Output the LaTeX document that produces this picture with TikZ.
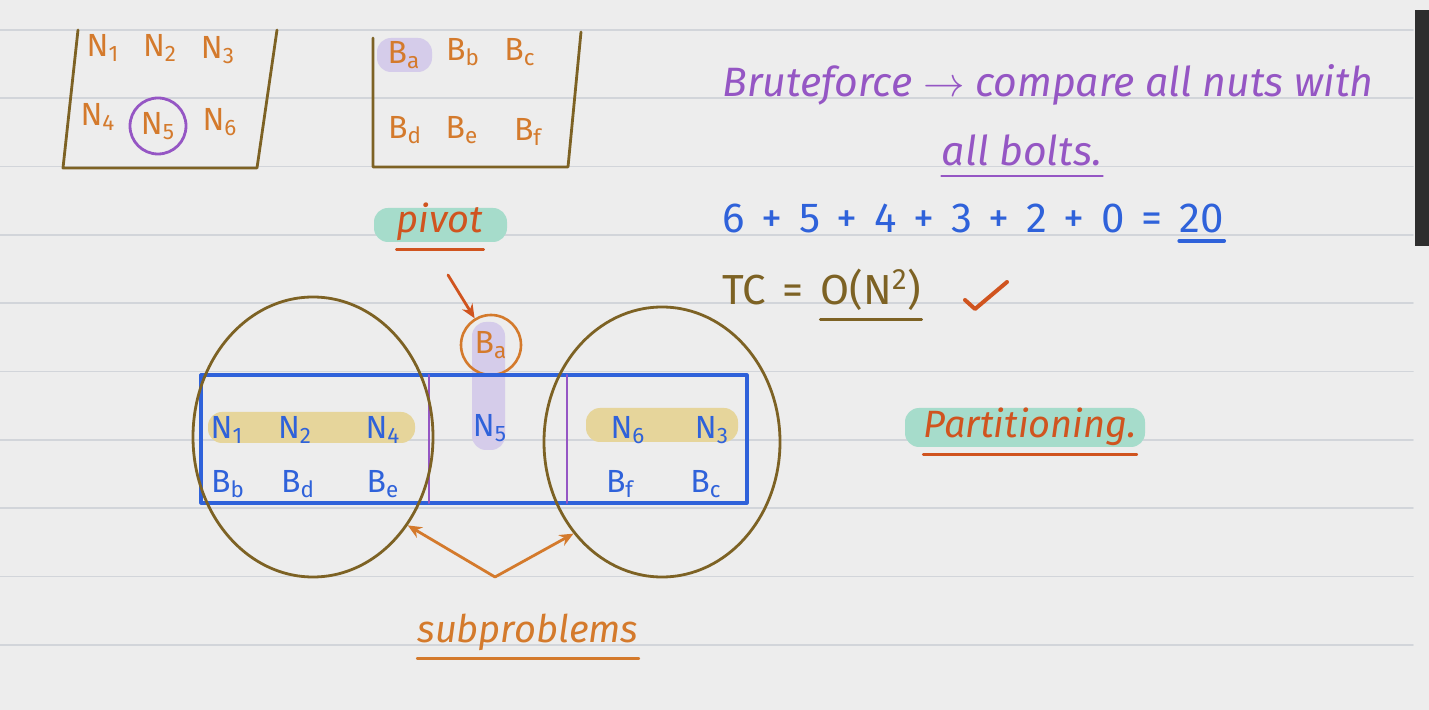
\documentclass[tikz,border=0pt]{standalone}
\usepackage{fontspec}
\setmainfont{Fira Sans}
\newfontfamily\sumfont[WordSpace=1.5]{Fira Sans}
\usetikzlibrary{arrows.meta,positioning,shapes.geometric,calc}
\definecolor{paper}{HTML}{EDEDED}
\definecolor{rule}{HTML}{D2D5DA}
\definecolor{olive}{HTML}{7D6224}
\definecolor{nutorange}{HTML}{D47A2C}
\definecolor{penblue}{HTML}{2F62DA}
\definecolor{penpurple}{HTML}{9556C4}
\definecolor{penred}{HTML}{D0541F}
\definecolor{hlteal}{HTML}{A6DCCB}
\definecolor{hlyellow}{HTML}{E6D59B}
\definecolor{hllav}{HTML}{D5CCEA}

\begin{document}
\begin{tikzpicture}[x=0.5pt,y=-0.5pt,line cap=round,line join=round,
  pen/.style={inner sep=0pt,font=\fontsize{16}{19}\selectfont},
  nut/.style={pen,text=nutorange},
  bolt/.style={pen,text=penblue},
  note/.style={inner sep=0pt,font=\itshape\fontsize{19}{23}\selectfont},
  sumtext/.style={inner sep=0pt,font=\sumfont\fontsize{21}{25}\selectfont},
  hand/.style={line width=1.4pt},
  tip/.style={-{Stealth[length=7pt,width=6pt]}}]
\def\hl#1#2#3{\fill[#1,rounded corners=7pt] #2 rectangle #3;}
\useasboundingbox (0,0) rectangle (1429,710);
\fill[paper] (0,0) rectangle (1429,710);
\foreach \k in {0,...,9}
  \draw[rule,line width=0.8pt] (0,{30+68.3*\k}) -- (1413,{30+68.3*\k});
\fill[black!82] (1415,10) rectangle (1429,246);

% the two buckets
\draw[olive,hand] (78,30) -- (63,168) -- (257,168) -- (277,30);
\draw[olive,hand] (373,38) -- (373,167) -- (568,167) -- (581,32);
\hl{hllav}{(377,38)}{(432,72)}
\node[nut] (n1) at (103,48) {N\textsubscript{1}};
\node[nut] (n2) at (160,48) {N\textsubscript{2}};
\node[nut] (n3) at (218,50) {N\textsubscript{3}};
\node[nut] (n4) at (98,117) {N\textsubscript{4}};
\node[nut,draw=penpurple,circle,line width=1.4pt,minimum size=28pt] (n5) at (158,126) {N\textsubscript{5}};
\node[nut] (n6) at (220,122) {N\textsubscript{6}};
\node[nut] (ba) at (404,55) {B\textsubscript{a}};
\node[nut] (bb) at (463,52) {B\textsubscript{b}};
\node[nut] (bc) at (520,52) {B\textsubscript{c}};
\node[nut] (bd) at (405,130) {B\textsubscript{d}};
\node[nut] (be) at (462,130) {B\textsubscript{e}};
\node[nut] (bf) at (528,132) {B\textsubscript{f}};

% pivot
\hl{hlteal}{(374,208)}{(507,242)}
\node[note,text=penred] (pivot) at (440,222) {pivot};
\draw[penred,hand] ([yshift=-4pt]pivot.south west) -- ([yshift=-4pt]pivot.south east);
\coordinate (pv) at (448,275);

% partition row
\hl{hllav}{(472,322)}{(505,450)}
\hl{hlyellow}{(208,412)}{(415,443)}
\hl{hlyellow}{(586,408)}{(738,442)}
\node[nut,draw=nutorange,circle,line width=1.3pt,minimum size=30pt] (piv) at (491,345) {B\textsubscript{a}};
\draw[penred,hand,tip] (pv) -- (piv);
\draw[penblue,line width=1.6pt] (201,375) rectangle (747,503);
\draw[penpurple,line width=1pt] (429,375) -- (429,503) (567,375) -- (567,503);
\node[bolt] (p1) at (227,430) {N\textsubscript{1}};
\node[bolt] (p2) at (295,430) {N\textsubscript{2}};
\node[bolt] (p4) at (383,430) {N\textsubscript{4}};
\node[bolt] (p5) at (490,428) {N\textsubscript{5}};
\node[bolt] (p6) at (628,430) {N\textsubscript{6}};
\node[bolt] (p3) at (712,430) {N\textsubscript{3}};
\node[bolt] (q2) at (228,484) {B\textsubscript{b}};
\node[bolt] (q4) at (298,484) {B\textsubscript{d}};
\node[bolt] (q5) at (383,484) {B\textsubscript{e}};
\node[bolt] (q6) at (620,484) {B\textsubscript{f}};
\node[bolt] (q3) at (706,484) {B\textsubscript{c}};
\node[draw=olive,ellipse,hand,minimum width=120pt,minimum height=140pt] (lhalf) at (313,437) {};
\node[draw=olive,ellipse,hand,minimum width=118pt,minimum height=135pt] (rhalf) at (662,442) {};

% subproblems
\coordinate (fork) at (495,577);
\draw[nutorange,hand,tip] (fork) -- (lhalf.-43);
\draw[nutorange,hand,tip] (fork) -- (rhalf.-134);
\node[note,text=nutorange] (subp) at (528,632) {subproblems};
\draw[nutorange,hand] ([yshift=-4pt]subp.south west) -- ([yshift=-4pt]subp.south east);

% brute force notes
\node[note,text=penpurple,font=\itshape\fontsize{20.5}{24}\selectfont] (brute) at (1048,85) {Bruteforce $\rightarrow$ compare all nuts with};
\node[note,text=penpurple,font=\itshape\fontsize{20.5}{24}\selectfont] (bolts) at (1022,150) {all bolts.};
\draw[penpurple,hand] ([yshift=-5pt]bolts.south west) -- ([yshift=-5pt]bolts.south east);
\node[sumtext,text=penblue,anchor=west] (sum) at (722,218) {6 + 5 + 4 + 3 + 2 + 0 =};
\node[sumtext,text=penblue,right=8pt of sum] (twenty) {20};
\draw[penblue,line width=1.8pt] ([yshift=-4pt]twenty.south west) -- ([yshift=-4pt]twenty.south east);
\node[sumtext,text=olive,anchor=west] (tc) at (722,290) {TC =};
\node[sumtext,text=olive,right=8pt of tc] (ocomp) {O(N\textsuperscript{2})};
\draw[olive,hand] ([yshift=-4pt]ocomp.south west) -- ([yshift=-4pt]ocomp.south east);
\draw[penred,line width=2pt] (965,300) -- (975,309) -- (1007,282);

% partitioning
\hl{hlteal}{(905,408)}{(1145,447)}
\node[note,text=penred] (part) at (1030,427) {Partitioning.};
\draw[penred,hand] ([yshift=-4pt]part.south west) -- ([yshift=-4pt]part.south east);
\end{tikzpicture}
\end{document}
